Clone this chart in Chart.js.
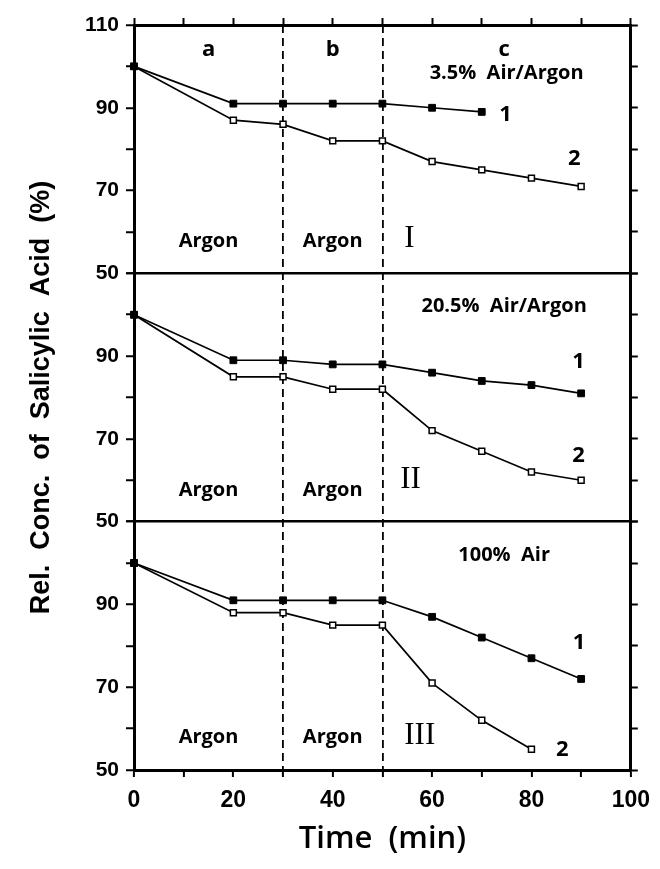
<!DOCTYPE html>
<html>
<head>
<meta charset="utf-8">
<script src="https://cdn.jsdelivr.net/npm/chart.js@4/dist/chart.umd.min.js"></script>
<style>
  html, body { margin: 0; padding: 0; background: #fff; }
  canvas { display: block; }
</style>
</head>
<body>
<canvas id="grafico" width="660" height="869"></canvas>
<script>
// time points (min) and relative concentration for each panel, 1 = filled, 2 = open
const times = [0, 20, 30, 40, 50, 60, 70, 80, 90];
const panel1Serie1 = [100, 91, 91, 91, 91, 90, 89];
const panel1Serie2 = [100, 87, 86, 82, 82, 77, 75, 73, 71];
const panel2Serie1 = [100, 89, 89, 88, 88, 86, 84, 83, 81];
const panel2Serie2 = [100, 85, 85, 82, 82, 72, 67, 62, 60];
const panel3Serie1 = [100, 91, 91, 91, 91, 87, 82, 77, 72];
const panel3Serie2 = [100, 88, 88, 85, 85, 71, 62, 55];
const phaseBounds = [30, 50];
const yLabels = [110, 90, 70, 50];
const xLabels = [0, 20, 40, 60, 80, 100];

// text written inside the plot, placed in data units of each panel
const notas = [
  { axis: 'y1', x: 15, y: 104, text: 'a', kind: 'phase' },
  { axis: 'y1', x: 40, y: 104, text: 'b', kind: 'phase' },
  { axis: 'y1', x: 74.5, y: 104, text: 'c', kind: 'phase' },
  { axis: 'y1', x: 75, y: 98.3, text: '3.5%  Air/Argon', kind: 'gas' },
  { axis: 'y1', x: 15, y: 57.8, text: 'Argon', kind: 'gas' },
  { axis: 'y1', x: 40, y: 57.8, text: 'Argon', kind: 'gas' },
  { axis: 'y1', x: 54.4, y: 58.3, text: 'I', kind: 'roman' },
  { axis: 'y1', x: 74.8, y: 88.3, text: '1', kind: 'num' },
  { axis: 'y1', x: 88.6, y: 77.6, text: '2', kind: 'num' },
  { axis: 'y2', x: 74.5, y: 102, text: '20.5%  Air/Argon', kind: 'gas' },
  { axis: 'y2', x: 15, y: 57.7, text: 'Argon', kind: 'gas' },
  { axis: 'y2', x: 40, y: 57.7, text: 'Argon', kind: 'gas' },
  { axis: 'y2', x: 53.6, y: 60, text: 'II', kind: 'roman' },
  { axis: 'y2', x: 89.5, y: 88.6, text: '1', kind: 'num' },
  { axis: 'y2', x: 89.5, y: 66, text: '2', kind: 'num' },
  { axis: 'y3', x: 74.5, y: 101.8, text: '100%  Air', kind: 'gas' },
  { axis: 'y3', x: 15, y: 58, text: 'Argon', kind: 'gas' },
  { axis: 'y3', x: 40, y: 58, text: 'Argon', kind: 'gas' },
  { axis: 'y3', x: 54.4, y: 58.3, text: 'III', kind: 'roman' },
  { axis: 'y3', x: 89.6, y: 80.7, text: '1', kind: 'num' },
  { axis: 'y3', x: 86.2, y: 54.8, text: '2', kind: 'num' }
];

const estilos = {
  phase: { font: 'bold 22px "Open Sans"', align: 'center' },
  gas: { font: 'bold 20px "Open Sans"', align: 'center' },
  roman: { font: '31px "Liberation Serif"', align: 'left' },
  num: { font: 'bold 22px "Open Sans"', align: 'center' }
};

const serie = (values, axis, filled) => ({
  data: values.map((v, i) => ({ x: times[i], y: v })),
  xAxisID: 'x',
  yAxisID: axis,
  borderColor: '#000',
  borderWidth: 1.7,
  pointStyle: 'rect',
  pointRadius: filled ? 4.8 : 4.2,
  pointBackgroundColor: filled ? '#000' : '#fff',
  pointBorderColor: '#000',
  pointBorderWidth: filled ? 1 : 1.5,
  tension: 0,
  clip: false
});

const tickFont = { family: '"Liberation Sans", Arial, sans-serif', size: 21, weight: 'bold' };

// three panels stacked on the left, sharing one x axis
const panelAxis = (idx, weight) => ({
  type: 'linear',
  position: 'left',
  stack: 'panels',
  stackWeight: 1,
  weight: weight,
  min: 50,
  max: 110,
  afterFit: s => { s.width = 114; },
  ticks: {
    stepSize: 10,
    autoSkip: false,
    padding: 7,
    color: '#000',
    font: tickFont,
    callback: v => (yLabels.includes(v) && (idx === 0 || v !== 110)) ? v : ''
  },
  grid: {
    color: c => (c.tick && c.tick.value === 50 && idx < 2) ? '#000' : 'rgba(0,0,0,0)',
    lineWidth: 2.5,
    tickColor: '#000',
    tickWidth: 2,
    tickLength: 8
  },
  border: { color: '#000', width: 3 },
  title: {
    display: true,
    text: idx === 1 ? 'Rel.  Conc.  of  Salicylic  Acid  (%)' : '',
    color: '#000',
    font: { family: '"Liberation Sans", Arial, sans-serif', size: 27, weight: 'bold' },
    padding: { top: 5, bottom: 0 }
  }
});

// mirror axes, only tick marks
const mirrorAxis = (weight) => ({
  type: 'linear',
  position: 'right',
  stack: 'mirror',
  stackWeight: 1,
  weight: weight,
  min: 50,
  max: 110,
  ticks: { display: false, stepSize: 10 },
  grid: { drawOnChartArea: false, tickColor: '#000', tickWidth: 2, tickLength: 7 },
  border: { color: '#000', width: 3 }
});

const notasPlugin = {
  id: 'notas',
  afterDatasetsDraw(chart) {
    const ctx = chart.ctx;
    const xs = chart.scales.x;
    ctx.save();
    ctx.fillStyle = '#000';
    ctx.textBaseline = 'middle';
    notas.forEach(n => {
      const st = estilos[n.kind];
      ctx.font = st.font;
      ctx.textAlign = st.align;
      ctx.fillText(n.text, xs.getPixelForValue(n.x), chart.scales[n.axis].getPixelForValue(n.y));
    });
    ctx.restore();
  }
};

new Chart(document.getElementById('grafico'), {
  type: 'line',
  data: {
    datasets: [
      serie(panel1Serie1, 'y1', true),
      serie(panel1Serie2, 'y1', false),
      serie(panel2Serie1, 'y2', true),
      serie(panel2Serie2, 'y2', false),
      serie(panel3Serie1, 'y3', true),
      serie(panel3Serie2, 'y3', false)
    ]
  },
  options: {
    responsive: false,
    animation: false,
    events: [],
    layout: { padding: { left: 20, right: 18, top: 18, bottom: 11 } },
    plugins: { legend: { display: false }, tooltip: { enabled: false } },
    scales: {
      x: {
        type: 'linear',
        position: 'bottom',
        min: 0,
        max: 100,
        afterFit: s => { s.height = 88; },
        ticks: {
          stepSize: 10,
          autoSkip: false,
          maxRotation: 0,
          padding: 10,
          color: '#000',
          font: { family: '"Liberation Sans", Arial, sans-serif', size: 23, weight: 'bold' },
          callback: v => xLabels.includes(v) ? v : ''
        },
        grid: {
          color: c => (c.tick && phaseBounds.includes(c.tick.value)) ? '#000' : 'rgba(0,0,0,0)',
          lineWidth: 1.8,
          tickColor: '#000',
          tickWidth: 2,
          tickLength: 7
        },
        border: { color: '#000', width: 3, dash: [8, 5] },
        title: {
          display: true,
          text: 'Time  (min)',
          color: '#000',
          font: { family: '"Open Sans", sans-serif', size: 31, weight: '600' },
          padding: { top: 0, bottom: 0 }
        }
      },
      xt: {
        type: 'linear',
        position: 'top',
        min: 0,
        max: 100,
        ticks: { display: false, stepSize: 10 },
        grid: { drawOnChartArea: false, tickColor: '#000', tickWidth: 2, tickLength: 7 },
        border: { color: '#000', width: 3 }
      },
      y1: panelAxis(0, 3),
      y2: panelAxis(1, 2),
      y3: panelAxis(2, 1),
      r1: mirrorAxis(1),
      r2: mirrorAxis(2),
      r3: mirrorAxis(3)
    }
  },
  plugins: [notasPlugin]
});
</script>
</body>
</html>
